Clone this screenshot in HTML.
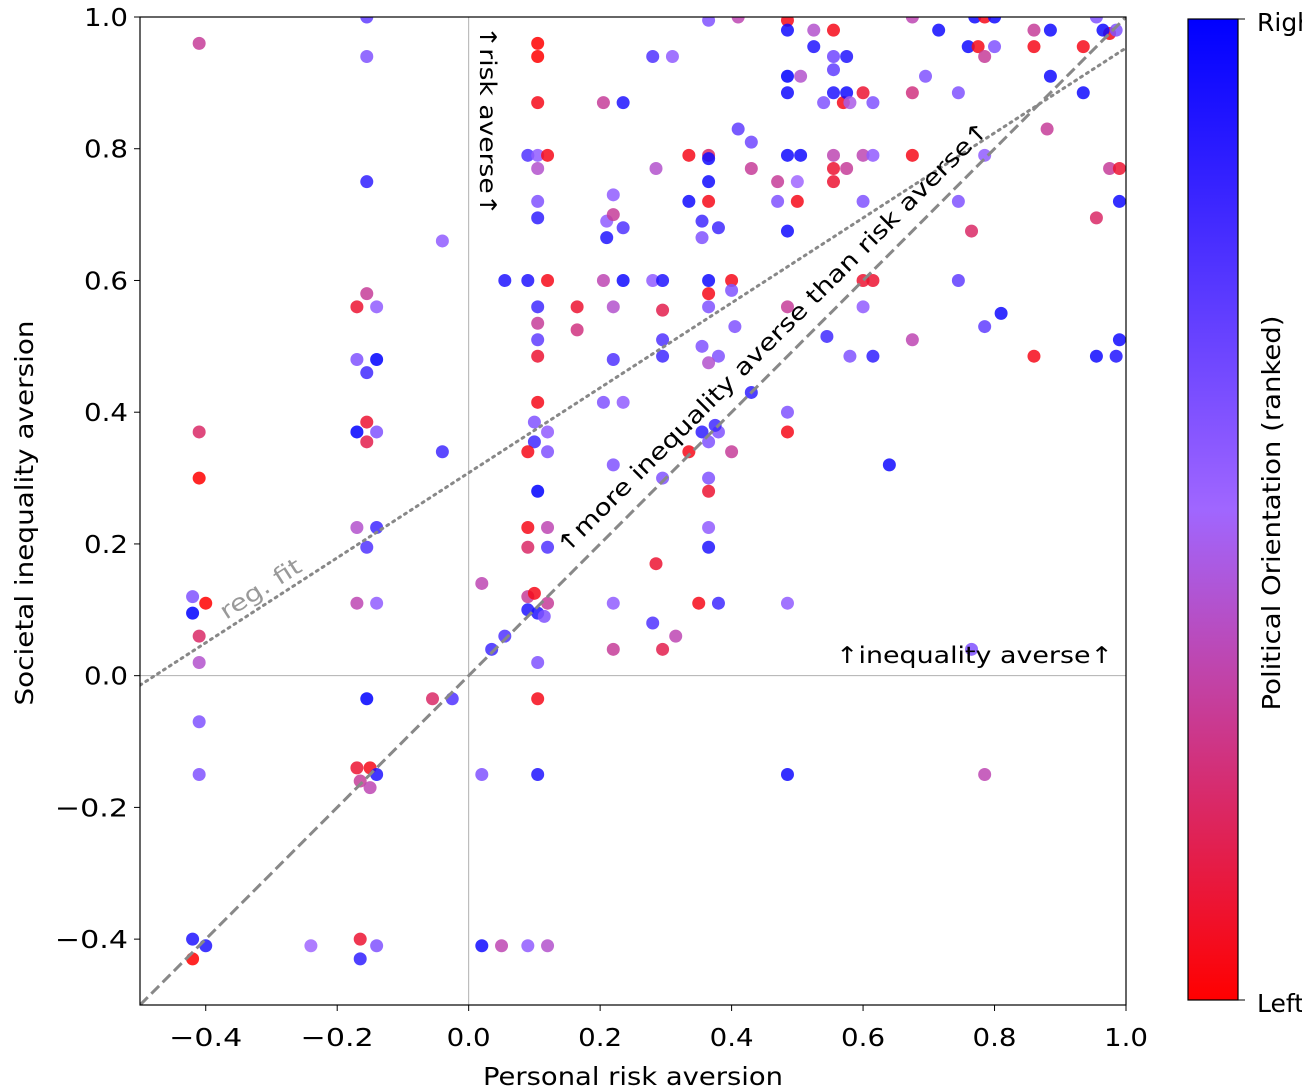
<!DOCTYPE html>
<html><head><meta charset="utf-8"><style>
html,body{margin:0;padding:0;background:#fff;}
svg{display:block;font-family:"DejaVu Sans","Liberation Sans",sans-serif;}
</style></head><body>
<svg id="chart" width="1302" height="1092">
<defs><linearGradient id="cbg" x1="0" y1="1" x2="0" y2="0">
<stop offset="0" stop-color="#ff0000"/><stop offset="0.25" stop-color="#d03380"/><stop offset="0.5" stop-color="#a066ff"/><stop offset="0.75" stop-color="#5033ff"/><stop offset="1" stop-color="#0000ff"/></linearGradient>
<clipPath id="clip"><rect x="140" y="17" width="986" height="988"/></clipPath></defs>
<g id="grid-lines"></g>
<g id="points" clip-path="url(#clip)"></g>
<g id="axes"></g>
</svg>
<script>
const xData=[-0.41,-0.41,-0.41,-0.42,-0.42,-0.40,-0.41,-0.41,-0.41,-0.41,-0.42,-0.40,-0.42,-0.24,
-0.155,-0.155,-0.155,-0.17,-0.155,-0.14,-0.17,-0.155,-0.14,-0.17,-0.155,-0.155,-0.14,-0.17,-0.155,-0.14,-0.17,-0.14,-0.155,-0.17,-0.15,-0.14,-0.165,-0.15,-0.165,-0.165,-0.14,
-0.04,-0.04,-0.055,-0.025,0.02,0.035,0.055,0.02,0.02,0.05,0.09,0.12,
0.105,0.105,0.105,0.09,0.105,0.12,0.105,0.105,0.105,0.055,0.09,0.12,0.105,0.105,0.105,0.105,0.105,0.1,0.12,0.1,0.09,0.12,0.105,0.09,0.12,0.09,0.12,0.09,0.1,0.09,0.12,0.105,0.115,0.105,0.105,0.105,
0.205,0.235,0.165,0.165,0.205,0.235,0.22,0.22,0.205,0.235,0.22,0.21,0.22,0.21,0.235,0.22,0.22,0.22,0.28,0.31,0.285,0.28,0.295,0.295,0.295,0.295,0.295,0.285,0.28,0.315,0.295,
0.335,0.365,0.365,0.335,0.365,0.365,0.355,0.355,0.38,0.365,0.4,0.4,0.365,0.365,0.355,0.38,0.365,0.405,0.355,0.38,0.375,0.365,0.335,0.4,0.365,0.365,0.365,0.365,0.35,0.38,0.43,0.365,0.41,0.41,0.43,0.43,
0.485,0.485,0.485,0.485,0.505,0.485,0.505,0.47,0.5,0.47,0.5,0.485,0.485,0.485,0.485,0.485,0.485,0.525,0.555,0.525,0.555,0.575,0.555,0.54,0.555,0.57,0.575,0.58,0.6,0.615,0.555,0.6,0.615,0.555,0.575,0.555,0.6,0.6,0.615,0.6,0.545,0.58,0.615,0.64,
0.675,0.715,0.695,0.675,0.675,0.745,0.745,0.765,0.745,0.785,0.81,0.675,0.76,0.775,0.77,0.785,0.8,0.785,0.8,0.785,0.765,0.785,
0.86,0.885,0.86,0.885,0.88,0.86,0.935,0.935,0.955,0.975,0.965,0.985,0.975,0.99,0.955,0.99,0.955,0.985,0.99];
const yData=[0.96,0.37,0.30,0.12,0.095,0.11,0.06,0.02,-0.07,-0.15,-0.40,-0.41,-0.43,-0.41,
1.0,0.94,0.75,0.56,0.58,0.56,0.48,0.46,0.48,0.37,0.385,0.355,0.37,0.225,0.195,0.225,0.11,0.11,-0.035,-0.14,-0.14,-0.15,-0.16,-0.17,-0.40,-0.43,-0.41,
0.66,0.34,-0.035,-0.035,0.14,0.04,0.06,-0.15,-0.41,-0.41,-0.41,-0.41,
0.96,0.94,0.87,0.79,0.79,0.79,0.77,0.72,0.695,0.60,0.60,0.60,0.56,0.535,0.51,0.485,0.415,0.385,0.37,0.355,0.34,0.34,0.28,0.225,0.225,0.195,0.195,0.12,0.125,0.10,0.11,0.095,0.09,0.02,-0.035,-0.15,
0.87,0.87,0.56,0.525,0.60,0.60,0.56,0.48,0.415,0.415,0.73,0.69,0.70,0.665,0.68,0.32,0.11,0.04,0.94,0.94,0.77,0.60,0.60,0.555,0.51,0.485,0.30,0.17,0.08,0.06,0.04,
0.79,0.79,0.785,0.72,0.75,0.72,0.69,0.665,0.68,0.60,0.60,0.585,0.58,0.56,0.50,0.485,0.475,0.53,0.37,0.37,0.38,0.355,0.34,0.34,0.30,0.28,0.225,0.195,0.11,0.11,0.43,0.995,1.0,0.83,0.81,0.77,
0.995,0.98,0.91,0.885,0.91,0.79,0.79,0.75,0.75,0.72,0.72,0.675,0.56,0.40,0.37,0.11,-0.15,0.98,0.98,0.955,0.94,0.94,0.92,0.87,0.885,0.87,0.885,0.87,0.885,0.87,0.79,0.79,0.79,0.77,0.77,0.75,0.72,0.60,0.60,0.56,0.515,0.485,0.485,0.32,
1.0,0.98,0.91,0.885,0.79,0.885,0.72,0.675,0.60,0.53,0.55,0.51,0.955,0.955,1.0,1.0,1.0,0.94,0.955,0.79,0.04,-0.15,
0.98,0.98,0.955,0.91,0.83,0.485,0.955,0.885,1.0,0.975,0.98,0.98,0.77,0.77,0.695,0.72,0.485,0.485,0.51];
const cData=[0.3,0.2,0,0.6,1,0,0.2,0.4,0.6,0.6,0.9,0.9,0,0.5,
0.7,0.6,0.85,0.1,0.3,0.55,0.6,0.8,1,1,0.1,0.15,0.6,0.4,0.75,0.8,0.35,0.55,1,0.1,0.05,0.9,0.3,0.35,0.1,0.85,0.6,
0.55,0.8,0.2,0.75,0.35,0.8,0.75,0.6,0.95,0.35,0.55,0.4,
0,0,0.05,0.75,0.55,0.05,0.4,0.6,0.85,0.9,0.9,0.05,0.8,0.3,0.7,0.1,0.05,0.6,0.55,0.8,0.05,0.6,1,0.05,0.35,0.2,0.75,0.3,0.05,0.9,0.3,0.9,0.6,0.6,0.05,0.9,
0.3,0.9,0.1,0.25,0.35,0.95,0.4,0.75,0.6,0.55,0.55,0.55,0.3,0.9,0.75,0.6,0.55,0.3,0.75,0.55,0.4,0.55,0.9,0.15,0.75,0.8,0.6,0.1,0.75,0.35,0.15,
0.05,0.2,0.95,0.95,0.95,0.05,0.8,0.6,0.8,0.95,0.05,0.6,0.05,0.6,0.6,0.6,0.4,0.6,0.85,0.6,0.8,0.6,0.05,0.3,0.6,0.1,0.55,0.9,0.05,0.8,0.85,0.6,0.35,0.7,0.65,0.3,
0.05,0.95,1,0.95,0.4,0.95,0.95,0.3,0.5,0.6,0.05,0.95,0.3,0.6,0.05,0.55,0.95,0.4,0.05,0.9,0.65,0.9,0.7,0.6,0.9,0.05,0.95,0.45,0.1,0.6,0.35,0.35,0.55,0.1,0.3,0.1,0.6,0.1,0.1,0.55,0.8,0.6,0.85,0.95,
0.35,0.95,0.6,0.25,0.05,0.6,0.6,0.2,0.7,0.7,0.95,0.35,0.95,0.05,0.95,0.05,0.95,0.3,0.6,0.55,0.6,0.35,
0.3,0.95,0.05,0.95,0.3,0.05,0.05,0.95,0.6,0.05,0.95,0.6,0.3,0.1,0.2,0.95,0.95,0.9,0.95];
const xTicks=[-0.4,-0.2,0.0,0.2,0.4,0.6,0.8,1.0];
const yTicks=[-0.4,-0.2,0.0,0.2,0.4,0.6,0.8,1.0];
const regSlope=0.645, regIntercept=0.308;

const NS="http://www.w3.org/2000/svg";
const X0=140,X1=1126,Y0=1005,Y1=17;
const sx=v=>X0+(v+0.5)/1.5*(X1-X0);
const sy=v=>Y0-(v+0.5)/1.5*(Y0-Y1);
function mk(tag,attrs,parent,text){const e=document.createElementNS(NS,tag);for(const k in attrs)e.setAttribute(k,attrs[k]);if(text!==undefined)e.textContent=text;parent.appendChild(e);return e;}
function cmap(t){const stops=[[255,0,0],[208,51,128],[160,102,255],[80,51,255],[0,0,255]];const p=t*4,i=Math.min(3,Math.floor(p)),f=p-i;const a=stops[i],b=stops[i+1];return `rgb(${Math.round(a[0]+(b[0]-a[0])*f)},${Math.round(a[1]+(b[1]-a[1])*f)},${Math.round(a[2]+(b[2]-a[2])*f)})`;}
const grid=document.getElementById('grid-lines');
const pts=document.getElementById('points');
const axes=document.getElementById('axes');
let e;
e=mk('line',{x1:sx(0),x2:sx(0),y1:Y1,y2:Y0,stroke:'#b0b0b0','stroke-width':1},grid);

e=mk('line',{x1:X0,x2:X1,y1:sy(0),y2:sy(0),stroke:'#b0b0b0','stroke-width':1},grid);

for(let i=0;i<xData.length;i++){
 const c=mk('circle',{cx:sx(xData[i]),cy:sy(yData[i]),r:6.5,fill:cmap(cData[i]),'fill-opacity':0.85},pts);
 
 
}
e=mk('line',{x1:sx(-0.5),y1:sy(-0.5),x2:sx(1),y2:sy(1),stroke:'#888','stroke-width':3,'stroke-dasharray':'11,5'},pts);

e=mk('line',{x1:sx(-0.5),y1:sy(regIntercept-0.5*regSlope),x2:sx(1),y2:sy(regIntercept+regSlope),stroke:'#888','stroke-width':3,'stroke-dasharray':'2,5','stroke-linecap':'round'},pts);

e=mk('text',{x:0,y:0,transform:'translate(480,26) rotate(90)','font-size':23,fill:'#000',textLength:190,lengthAdjust:'spacingAndGlyphs'},axes,'↑risk averse↑');

e=mk('text',{x:0,y:0,transform:'translate(566,555) rotate(-45)','font-size':23,fill:'#000',textLength:600,lengthAdjust:'spacingAndGlyphs'},axes,'↑more inequality averse than risk averse↑');

e=mk('text',{x:836,y:663,'font-size':23,fill:'#000',textLength:277,lengthAdjust:'spacingAndGlyphs'},axes,'↑inequality averse↑');

e=mk('text',{x:0,y:0,transform:'translate(226,620) rotate(-32.7)','font-size':23,fill:'#999',textLength:92,lengthAdjust:'spacingAndGlyphs'},axes,'reg. fit');

e=mk('rect',{x:X0,y:Y1,width:X1-X0,height:Y0-Y1,fill:'none',stroke:'#000','stroke-width':1.2},axes);

xTicks.forEach(v=>{
 mk('line',{x1:sx(v),x2:sx(v),y1:Y0,y2:Y0+6,stroke:'#000'},axes);
 const s=(v<0?'−':'')+Math.abs(v).toFixed(1);
 const t=mk('text',{x:sx(v),y:1046,'font-size':25,'text-anchor':'middle',textLength:(v<0?73:44),lengthAdjust:'spacingAndGlyphs'},axes,s);
 
 
});
yTicks.forEach(v=>{
 mk('line',{x1:X0-6,x2:X0,y1:sy(v),y2:sy(v),stroke:'#000'},axes);
 const s=(v<0?'−':'')+Math.abs(v).toFixed(1);
 const t=mk('text',{x:128,y:sy(v)+9,'font-size':25,'text-anchor':'end',textLength:(v<0?73:44),lengthAdjust:'spacingAndGlyphs'},axes,s);
 
 
});
e=mk('text',{x:633,y:1085,'font-size':25,'text-anchor':'middle',textLength:300,lengthAdjust:'spacingAndGlyphs'},axes,'Personal risk aversion');

e=mk('text',{x:0,y:0,transform:'translate(33,513) rotate(-90)','font-size':25,'text-anchor':'middle',textLength:385,lengthAdjust:'spacingAndGlyphs'},axes,'Societal inequality aversion');

e=mk('rect',{x:1188,y:19,width:50,height:981,fill:'url(#cbg)',stroke:'#000','stroke-width':1.2},axes);

mk('line',{x1:1238,x2:1245,y1:19,y2:19,stroke:'#000'},axes);
mk('line',{x1:1238,x2:1245,y1:1000,y2:1000,stroke:'#000'},axes);
e=mk('text',{x:1257,y:31,'font-size':25},axes,'Right');

e=mk('text',{x:1257,y:1012,'font-size':25},axes,'Left');

e=mk('text',{x:0,y:0,transform:'translate(1280,513) rotate(-90)','font-size':25,'text-anchor':'middle',textLength:395,lengthAdjust:'spacingAndGlyphs'},axes,'Political Orientation (ranked)');

</script>
</body></html>
